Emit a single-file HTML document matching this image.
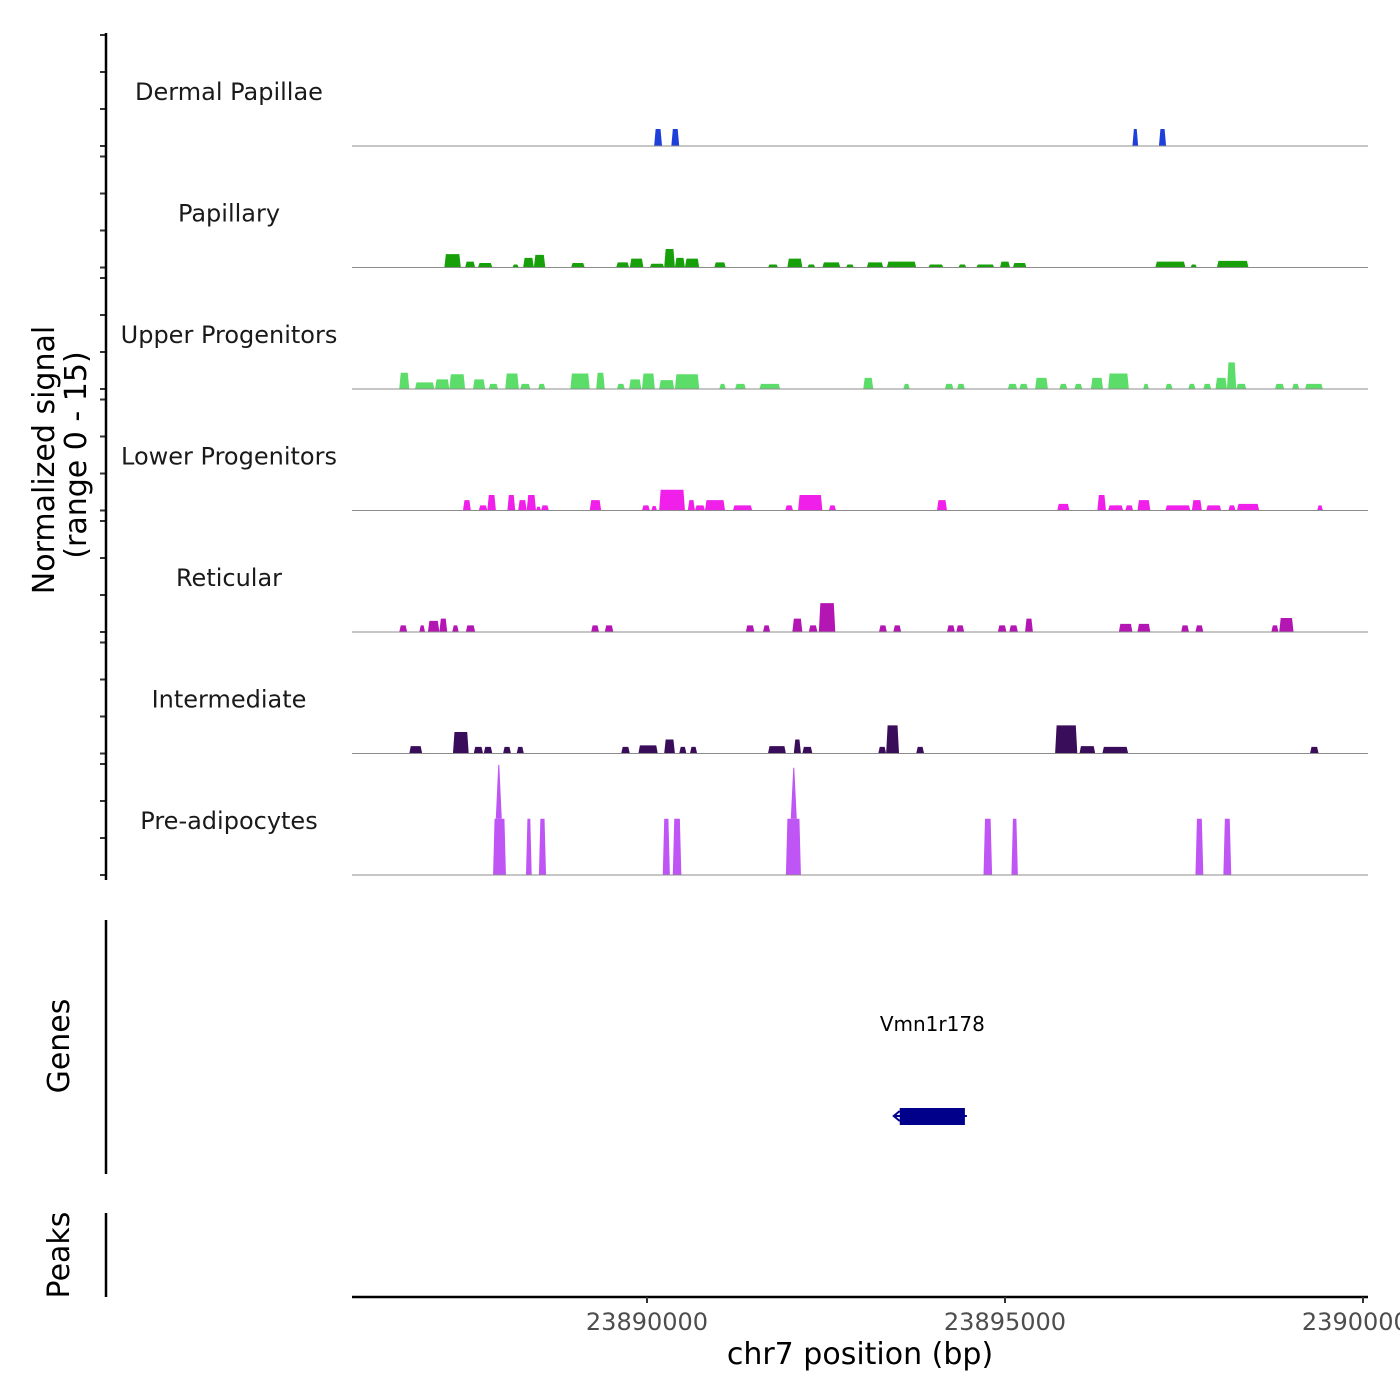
<!DOCTYPE html>
<html><head><meta charset="utf-8">
<style>
html,body{margin:0;padding:0;background:#fff;}
svg{display:block;font-family:"DejaVu Sans","Liberation Sans",sans-serif;}
</style></head>
<body>
<svg id="chart" width="1400" height="1400" viewBox="0 0 1400 1400" xmlns="http://www.w3.org/2000/svg">
<rect width="1400" height="1400" fill="#fff"/>
<g id="tracks"></g>
<g id="axes"></g>
<text transform="translate(54,460) rotate(-90)" text-anchor="middle" font-size="30" fill="#000">Normalized signal</text>
<text transform="translate(86,455) rotate(-90)" text-anchor="middle" font-size="30" fill="#000">(range 0 - 15)</text>
<text transform="translate(69,1046) rotate(-90)" text-anchor="middle" font-size="30" fill="#000">Genes</text>
<text transform="translate(69,1255) rotate(-90)" text-anchor="middle" font-size="30" fill="#000">Peaks</text>
<text x="860" y="1364" text-anchor="middle" font-size="30" fill="#000">chr7 position (bp)</text>
</svg>
<script>
// ---- data (positions in kb, values in normalized signal) ----
const trackNames = ["Dermal Papillae","Papillary","Upper Progenitors","Lower Progenitors","Reticular","Intermediate","Pre-adipocytes"];
const trackColors = ["#1f3fdb","#17a00a","#5cdd6a","#f020ea","#b316b3","#3a0d5a","#bf55f5"];
const dermal = [[23890.10,23890.21,2.3],[23890.34,23890.45,2.3],[23896.78,23896.86,2.3],[23897.15,23897.25,2.3]];
const papillary = [[23887.17,23887.40,1.8],[23887.46,23887.60,0.8],[23887.64,23887.84,0.6],[23888.12,23888.21,0.4],[23888.27,23888.42,1.3],[23888.42,23888.58,1.7],[23888.94,23889.13,0.6],[23889.57,23889.75,0.7],[23889.76,23889.95,1.2],[23890.04,23890.24,0.5],[23890.24,23890.39,2.5],[23890.39,23890.53,1.3],[23890.53,23890.73,1.2],[23890.94,23891.10,0.7],[23891.69,23891.83,0.4],[23891.96,23892.17,1.2],[23892.24,23892.35,0.4],[23892.45,23892.70,0.7],[23892.78,23892.89,0.4],[23893.07,23893.30,0.7],[23893.35,23893.76,0.8],[23893.93,23894.14,0.4],[23894.35,23894.46,0.4],[23894.60,23894.85,0.4],[23894.93,23895.07,0.8],[23895.11,23895.30,0.6],[23897.10,23897.52,0.8],[23897.59,23897.68,0.4],[23897.96,23898.40,0.9]];
const upper = [[23886.54,23886.68,2.2],[23886.76,23887.03,0.9],[23887.04,23887.24,1.3],[23887.24,23887.46,2.0],[23887.57,23887.74,1.3],[23887.79,23887.92,0.7],[23888.02,23888.21,2.1],[23888.23,23888.37,0.7],[23888.48,23888.58,0.7],[23888.93,23889.20,2.1],[23889.29,23889.41,2.2],[23889.58,23889.69,0.7],[23889.75,23889.92,1.3],[23889.93,23890.11,2.1],[23890.17,23890.38,1.2],[23890.39,23890.73,2.0],[23891.01,23891.10,0.7],[23891.23,23891.38,0.7],[23891.57,23891.86,0.7],[23893.02,23893.16,1.5],[23893.58,23893.67,0.7],[23894.16,23894.28,0.7],[23894.33,23894.44,0.7],[23895.04,23895.17,0.7],[23895.20,23895.32,0.7],[23895.42,23895.60,1.5],[23895.76,23895.87,0.7],[23895.97,23896.08,0.7],[23896.20,23896.37,1.5],[23896.44,23896.73,2.1],[23896.93,23897.01,0.7],[23897.24,23897.34,0.7],[23897.56,23897.66,0.7],[23897.77,23897.88,0.7],[23897.94,23898.10,1.5],[23898.10,23898.23,3.6],[23898.23,23898.37,0.7],[23898.77,23898.90,0.7],[23899.01,23899.11,0.7],[23899.19,23899.44,0.7]];
const lower = [[23887.43,23887.54,1.4],[23887.65,23887.77,0.7],[23887.77,23887.89,2.1],[23888.05,23888.16,2.1],[23888.20,23888.32,1.4],[23888.32,23888.45,2.1],[23888.45,23888.52,0.5],[23888.52,23888.63,0.7],[23889.20,23889.36,1.4],[23889.93,23890.04,0.7],[23890.06,23890.14,0.6],[23890.17,23890.53,2.8],[23890.57,23890.67,1.4],[23890.67,23890.81,0.7],[23890.81,23891.09,1.4],[23891.20,23891.47,0.7],[23891.93,23892.04,0.7],[23892.11,23892.45,2.1],[23892.54,23892.64,0.7],[23894.05,23894.19,1.4],[23895.73,23895.90,0.9],[23896.29,23896.41,2.1],[23896.44,23896.65,0.7],[23896.68,23896.79,0.7],[23896.85,23897.03,1.4],[23897.24,23897.59,0.7],[23897.61,23897.75,1.4],[23897.81,23898.02,0.7],[23898.12,23898.22,0.7],[23898.24,23898.55,0.9],[23899.36,23899.44,0.7]];
const reticular = [[23886.54,23886.65,0.9],[23886.82,23886.90,0.9],[23886.94,23887.10,1.5],[23887.10,23887.21,1.8],[23887.28,23887.37,0.9],[23887.47,23887.60,0.9],[23889.22,23889.33,0.9],[23889.41,23889.53,0.9],[23891.38,23891.50,0.9],[23891.62,23891.72,0.9],[23892.03,23892.17,1.8],[23892.26,23892.38,0.9],[23892.40,23892.63,3.9],[23893.24,23893.35,0.9],[23893.44,23893.55,0.9],[23894.19,23894.30,0.9],[23894.32,23894.43,0.9],[23894.90,23895.02,0.9],[23895.06,23895.18,0.9],[23895.28,23895.39,1.8],[23896.59,23896.78,1.1],[23896.85,23897.03,1.1],[23897.46,23897.57,0.9],[23897.66,23897.77,0.9],[23898.72,23898.82,0.9],[23898.83,23899.03,1.9]];
const intermediate = [[23886.68,23886.86,1.0],[23887.29,23887.51,2.9],[23887.58,23887.71,0.9],[23887.72,23887.84,0.9],[23887.99,23888.10,0.9],[23888.18,23888.28,0.9],[23889.64,23889.76,0.9],[23889.88,23890.15,1.1],[23890.24,23890.39,1.9],[23890.45,23890.55,0.9],[23890.60,23890.70,0.9],[23891.69,23891.94,1.0],[23892.05,23892.15,1.9],[23892.17,23892.31,0.9],[23893.23,23893.34,0.9],[23893.34,23893.52,3.8],[23893.76,23893.87,0.9],[23895.70,23896.01,3.8],[23896.04,23896.26,1.0],[23896.36,23896.72,0.9],[23899.26,23899.38,0.9]];
const preadipo = [[23887.85,23888.03,7.6],[23888.31,23888.39,7.6],[23888.49,23888.59,7.6],[23890.22,23890.32,7.6],[23890.36,23890.48,7.6],[23891.94,23892.15,7.6],[23894.70,23894.82,7.6],[23895.09,23895.18,7.6],[23897.66,23897.77,7.6],[23898.05,23898.16,7.6]];
const preadipoSpikes = [[23887.93,14.9],[23892.05,14.5]];
const trackData = [dermal,papillary,upper,lower,reticular,intermediate,preadipo];
const xTicks = [23890000,23895000,23900000];
const xTickLabels = ["23890000","23895000","23900000"];
const yTicks = [0,5,10,15];
const geneName = "Vmn1r178";
const geneStart = 23893530, geneEnd = 23894440;

// ---- scales ----
const X0 = 23885880, X1 = 23900070, PX0 = 352, PX1 = 1368;
const xs = bp => PX0 + (bp - X0) / (X1 - X0) * (PX1 - PX0);
const baseY = i => 146 + 121.5 * i;
const ys = (i, v) => baseY(i) - v * 111 / 15;
const NS = "http://www.w3.org/2000/svg";
const mk = (tag, attrs, parent) => { const e = document.createElementNS(NS, tag); for (const k in attrs) e.setAttribute(k, attrs[k]); parent.appendChild(e); return e; };

const tracks = document.getElementById('tracks');
const axes = document.getElementById('axes');

trackNames.forEach((name, i) => {
  const g = mk('g', {}, tracks);
  
  
  trackData[i].forEach(seg => {
    const x1 = xs(seg[0] * 1000), x2 = xs(seg[1] * 1000);
    const inset = Math.min(1.5, (x2 - x1) / 4);
    const yb = baseY(i), yt = ys(i, seg[2]);
    const p = mk('polygon', {points: `${x1},${yb} ${x1+inset},${yt} ${x2-inset},${yt} ${x2},${yb}`, fill: trackColors[i]}, g);
    
    
  });
  if (i === 6) {
    preadipoSpikes.forEach(s => {
      const cx = xs(s[0] * 1000);
      const p = mk('polygon', {points: `${cx-3},${ys(i,7.6)} ${cx-0.5},${ys(i,s[1])} ${cx+0.5},${ys(i,s[1])} ${cx+3},${ys(i,7.6)}`, fill: trackColors[i]}, g);
      
      
    });
  }
  const bl = mk('line', {x1: PX0, x2: PX1, y1: baseY(i), y2: baseY(i), stroke: '#8c8c8c', 'stroke-width': 1}, g);
  
  
  const t = mk('text', {x: 229, y: baseY(i) - 46, 'text-anchor': 'middle', 'font-size': 24, fill: '#1a1a1a'}, g);
  t.textContent = name;
  
  
  yTicks.forEach(v => {
    const tk = mk('line', {x1: 100, x2: 106, y1: ys(i, v), y2: ys(i, v), stroke: '#333', 'stroke-width': 2}, axes);
    
    
  });
});

// left axis lines
[[33, 880, 'signal-y-axis'], [920, 1174, 'genes-y-axis'], [1213, 1297, 'peaks-y-axis']].forEach(a => {
  const l = mk('line', {x1: 106, x2: 106, y1: a[0], y2: a[1], stroke: '#000', 'stroke-width': 2.5}, axes);
  
  
});

// x axis
const xl = mk('line', {x1: PX0, x2: PX1, y1: 1297, y2: 1297, stroke: '#000', 'stroke-width': 2.5}, axes);


xTicks.forEach((v, k) => {
  const tk = mk('line', {x1: xs(v), x2: xs(v), y1: 1297, y2: 1303, stroke: '#333', 'stroke-width': 2}, axes);
  
  
  const tl = mk('text', {x: xs(v), y: 1330, 'text-anchor': 'middle', 'font-size': 24, fill: '#4d4d4d'}, axes);
  tl.textContent = xTickLabels[k];
  
  
});

// gene
const gg = mk('g', {}, tracks);


const gx1 = xs(geneStart), gx2 = xs(geneEnd);
const gl = mk('line', {x1: gx1 - 6, x2: gx2 + 2, y1: 1116, y2: 1116, stroke: '#00008b', 'stroke-width': 2}, gg);


const gb = mk('rect', {x: gx1, y: 1108, width: gx2 - gx1, height: 17, fill: '#00008b'}, gg);


const ga = mk('path', {d: `M${gx1},${1111} L${gx1-6},${1116} L${gx1},${1121}`, stroke: '#00008b', 'stroke-width': 2, fill: 'none'}, gg);


const gt = mk('text', {x: (gx1 + gx2) / 2, y: 1031, 'text-anchor': 'middle', 'font-size': 20, fill: '#000'}, gg);
gt.textContent = geneName;


</script>
</body></html>
